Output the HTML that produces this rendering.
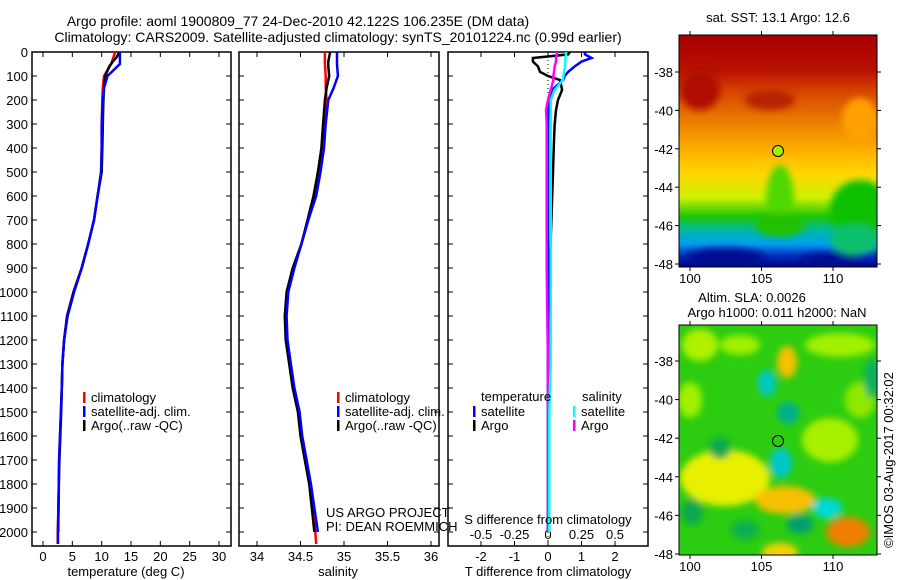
<!DOCTYPE html>
<html><head><meta charset="utf-8"><style>
body{margin:0;background:#fff;}
svg{display:block;font-family:"Liberation Sans",sans-serif;}
text{font-size:13px;fill:#000;}
</style></head><body>
<svg id="fig" width="900" height="580" viewBox="0 0 900 580">
<defs>
<filter id="bl" x="-50%" y="-50%" width="200%" height="200%"><feGaussianBlur stdDeviation="5"/></filter>
<filter id="bl2" x="-50%" y="-50%" width="200%" height="200%"><feGaussianBlur stdDeviation="3.5"/></filter>
<clipPath id="c1"><rect x="679" y="35" width="198" height="232"/></clipPath>
<clipPath id="c2"><rect x="679" y="325" width="198" height="230"/></clipPath>
<linearGradient id="sst" x1="0" y1="0" x2="0" y2="1">
<stop offset="0" stop-color="#a80000"/><stop offset="0.15" stop-color="#b81000"/>
<stop offset="0.25" stop-color="#d84800"/><stop offset="0.38" stop-color="#ec8000"/>
<stop offset="0.5" stop-color="#ffb000"/><stop offset="0.6" stop-color="#ffd800"/>
<stop offset="0.7" stop-color="#d0f000"/><stop offset="0.78" stop-color="#20c800"/>
<stop offset="0.84" stop-color="#00b8a0"/><stop offset="0.9" stop-color="#00a0f0"/>
<stop offset="0.95" stop-color="#0030c0"/><stop offset="1" stop-color="#000088"/>
</linearGradient>
</defs>
<g>
<text x="298" y="26" text-anchor="middle" style="font-size:14px">Argo profile: aoml 1900809_77 24-Dec-2010 42.122S 106.235E (DM data)</text>
<text x="338" y="42" text-anchor="middle" style="font-size:14px">Climatology: CARS2009. Satellite-adjusted climatology: synTS_20101224.nc (0.99d earlier)</text>
</g>
<g id="panels"></g>
<g>
<text x="778" y="22" text-anchor="middle">sat. SST: 13.1  Argo: 12.6</text>
<g clip-path="url(#c1)">
<rect x="679" y="35" width="198" height="232" fill="url(#sst)"/>
<g filter="url(#bl2)">
<ellipse cx="780" cy="200" rx="14" ry="35" fill="#50d800"/>
<ellipse cx="860" cy="210" rx="30" ry="30" fill="#10c000"/>
<ellipse cx="780" cy="225" rx="25" ry="12" fill="#20c000"/>
<ellipse cx="725" cy="258" rx="40" ry="10" fill="#001090"/>
<ellipse cx="830" cy="260" rx="30" ry="7" fill="#001090"/>
<ellipse cx="855" cy="240" rx="25" ry="15" fill="#10c070"/>
<ellipse cx="770" cy="100" rx="25" ry="10" fill="#b82000"/>
<ellipse cx="700" cy="90" rx="20" ry="20" fill="#b01000"/>
<ellipse cx="860" cy="120" rx="18" ry="22" fill="#ffa000"/>
</g>
</g>
<rect x="679" y="35" width="198" height="232" fill="none" stroke="#000"/>
<circle cx="778" cy="151" r="5.5" fill="#a0f000" stroke="#000"/>
<g id="map1ax"></g>
</g>
<g>
<text x="752" y="302" text-anchor="middle">Altim. SLA: 0.0026</text>
<text x="777" y="317" text-anchor="middle">Argo h1000: 0.011 h2000: NaN</text>
<g clip-path="url(#c2)">
<rect x="679" y="325" width="198" height="230" fill="#2ccc10"/>
<g filter="url(#bl2)">
<ellipse cx="725" cy="478" rx="45" ry="28" fill="#e8f000"/>
<ellipse cx="700" cy="345" rx="18" ry="16" fill="#b0f000"/>
<ellipse cx="840" cy="345" rx="35" ry="12" fill="#a0f000"/>
<ellipse cx="740" cy="345" rx="20" ry="10" fill="#a0f000"/>
<ellipse cx="690" cy="400" rx="12" ry="18" fill="#a0f000"/>
<ellipse cx="830" cy="440" rx="28" ry="22" fill="#a8f000"/>
<ellipse cx="860" cy="400" rx="15" ry="18" fill="#90e800"/>
<ellipse cx="787" cy="362" rx="10" ry="16" fill="#f8c000"/>
<ellipse cx="785" cy="500" rx="30" ry="14" fill="#f8c000"/>
<ellipse cx="848" cy="532" rx="22" ry="15" fill="#f08000"/>
<ellipse cx="780" cy="552" rx="18" ry="9" fill="#f8d000"/>
<ellipse cx="767" cy="383" rx="9" ry="13" fill="#00c8c8"/>
<ellipse cx="788" cy="413" rx="11" ry="11" fill="#00b090"/>
<ellipse cx="781" cy="463" rx="11" ry="15" fill="#00c8c8"/>
<ellipse cx="720" cy="448" rx="11" ry="11" fill="#10a850"/>
<ellipse cx="827" cy="508" rx="15" ry="10" fill="#00d8d8"/>
<ellipse cx="800" cy="524" rx="13" ry="10" fill="#00a070"/>
<ellipse cx="692" cy="512" rx="11" ry="13" fill="#10a850"/>
<ellipse cx="872" cy="378" rx="8" ry="20" fill="#10b060"/>
<ellipse cx="745" cy="530" rx="14" ry="10" fill="#10b050"/>
</g>
</g>
<rect x="679" y="325" width="198" height="230" fill="none" stroke="#000"/>
<circle cx="778" cy="441" r="5.5" fill="none" stroke="#000"/>
<g id="map2ax"></g>
<text transform="translate(893,460) rotate(-90)" text-anchor="middle">©IMOS 03-Aug-2017 00:32:02</text>
</g>
</svg>
<script>
// ---- data ----
const depthClim = [0,50,100,150,200,300,400,500,600,700,800,900,1000,1100,1200,1300,1400,1500,1600,1700,1800,1900,2000,2050];
const tempClim  = [12.3,11.6,10.4,10.2,10.1,10.0,10.0,9.9,9.3,8.7,7.7,6.6,5.2,4.1,3.6,3.3,3.2,3.05,2.9,2.75,2.7,2.62,2.5,2.5];
const tempSat   = [13.1,13.1,11.0,10.4,10.2,10.0,10.0,9.9,9.3,8.7,7.7,6.6,5.3,4.2,3.6,3.3,3.2,3.05,2.9,2.75,2.7,2.62,2.55,2.55];
const depthArgo = [0,20,40,60,100,150,200,300,400,500,600,700,800,900,1000,1100,1200,1300,1400,1500,1600,1700,1800,1900,2000];
const tempArgo  = [13.0,12.6,11.9,11.3,10.6,10.4,10.3,10.2,10.1,10.0,9.3,8.7,7.7,6.6,5.2,4.1,3.6,3.3,3.2,3.1,2.95,2.8,2.7,2.65,2.6];
const salClim   = [34.78,34.78,34.79,34.79,34.80,34.78,34.76,34.72,34.67,34.59,34.51,34.42,34.35,34.33,34.34,34.38,34.42,34.48,34.51,34.56,34.61,34.64,34.67,34.68];
const salSat    = [34.92,34.92,34.93,34.88,34.82,34.79,34.77,34.73,34.68,34.59,34.51,34.43,34.36,34.34,34.35,34.39,34.43,34.49,34.52,34.57,34.62,34.66,34.70,34.70];
const salArgo   = [34.84,34.83,34.82,34.82,34.83,34.80,34.78,34.76,34.74,34.70,34.65,34.58,34.51,34.41,34.34,34.32,34.33,34.37,34.41,34.47,34.50,34.55,34.60,34.63,34.66];
const depthDiff = [0,10,25,40,60,83,100,117,158,200,242,300,367,500,700,900,1100,1300,1500,1700,1900,2000];
const tDiffArgo = [0.65,0.6,-0.45,-0.45,-0.3,-0.24,0.0,0.36,0.42,0.3,0.24,0.2,0.18,0.15,0.1,0.05,0.0,0.0,0.0,0.0,0.0,0.0];
const tDiffSat  = [1.1,1.1,1.3,1.0,0.8,0.6,0.5,0.45,0.12,0.03,0.01,0.0,0.0,0.0,0.0,0.0,0.0,0.0,0.0,0.0,0.0,0.0];
const sDiffSat  = [0.134,0.134,0.13,0.128,0.127,0.12,0.115,0.11,0.05,0.02,0.02,0.02,0.02,0.02,0.02,0.02,0.02,0.02,0.01,0.01,0.01,0.01];
const sDiffArgo = [0.067,0.065,0.06,0.06,0.05,0.045,0.04,0.04,0.02,0.0,-0.015,-0.01,-0.01,-0.01,-0.01,-0.01,-0.005,0.0,0.0,0.0,0.0,0.0];
const depthTicks = [0,100,200,300,400,500,600,700,800,900,1000,1100,1200,1300,1400,1500,1600,1700,1800,1900,2000];
const tempTicks = [0,5,10,15,20,25,30];
const salTicks = [34,34.5,35,35.5,36];
const salTickLabels = ["34","34.5","35","35.5","36"];
const tdTicks = [-2,-1,0,1,2];
const sdTicks = [-0.5,-0.25,0,0.25,0.5];
const sdTickLabels = ["-0.5","-0.25","0","0.25","0.5"];
const lonTicks = [100,105,110];
const latTicks = [-38,-40,-42,-44,-46,-48];

const NS='http://www.w3.org/2000/svg';
const root=document.getElementById('panels');
function el(tag,attrs,parent,txt){const e=document.createElementNS(NS,tag);for(const k in attrs)e.setAttribute(k,attrs[k]);if(txt!==undefined)e.textContent=txt;(parent||root).appendChild(e);return e;}
const yTop=52, yBot=546;
const yD=d=>yTop+d*0.24;
function xs(x0,x1,v0,v1){return v=>x0+(v-v0)*(x1-x0)/(v1-v0);}
const xT=xs(43,219,0,30), xS=xs(257,431,34,36), xTD=xs(548,615,0,2), xSD=xs(548,615,0,0.5);

function frame(x0,x1,name){
  const r=el('rect',{x:x0,y:yTop,width:x1-x0,height:yBot-yTop,fill:'none',stroke:'#000','stroke-width':1.5});
  
  
}
function xtick(x,lab,y){
  el('line',{x1:x,x2:x,y1:yBot,y2:yBot-5,stroke:'#000'});
  el('line',{x1:x,x2:x,y1:yTop,y2:yTop+5,stroke:'#000'});
  if(lab!==null){const t=el('text',{x:x,y:y||561,'text-anchor':'middle'},root,lab);
  
  }
}
function line(xsArr,ds,xf,color,name,w){
  const pts=xsArr.map((v,i)=>xf(v).toFixed(1)+','+yD(ds[i]).toFixed(1)).join(' ');
  const p=el('polyline',{points:pts,fill:'none',stroke:color,'stroke-width':w||2.5});
  
  
}
function legend(x,y,color,lab){
  el('rect',{x:x,y:y-10,width:2.5,height:11,fill:color});
  const t=el('text',{x:x+8,y:y},root,lab);
  
  
}
// panel 1
frame(32,231,'temperature-panel');
depthTicks.forEach(d=>{
  el('line',{x1:32,x2:37,y1:yD(d),y2:yD(d),stroke:'#000'});
  el('line',{x1:226,x2:231,y1:yD(d),y2:yD(d),stroke:'#000'});
  const t=el('text',{x:28,y:yD(d)+5,'text-anchor':'end'},root,String(d));
  
  
});
tempTicks.forEach(v=>xtick(xT(v),String(v)));
line(tempClim,depthClim,xT,'#f00','temp-climatology-line');
line(tempArgo,depthArgo,xT,'#000','temp-argo-line');
line(tempSat,depthClim,xT,'#00f','temp-satellite-line');
legend(83,402,'#f00','climatology');legend(83,416,'#00f','satellite-adj. clim.');legend(83,430,'#000','Argo(..raw -QC)');
let t=el('text',{x:126,y:576,'text-anchor':'middle'},root,'temperature (deg C)');


// panel 2
frame(239,439,'salinity-panel');
depthTicks.forEach(d=>{el('line',{x1:239,x2:244,y1:yD(d),y2:yD(d),stroke:'#000'});el('line',{x1:434,x2:439,y1:yD(d),y2:yD(d),stroke:'#000'});});
salTicks.forEach((v,i)=>xtick(xS(v),salTickLabels[i]));
line(salClim,depthClim,xS,'#f00','sal-climatology-line');
line(salArgo,depthArgo,xS,'#000','sal-argo-line');
line(salSat.slice(0,23),depthClim.slice(0,23),xS,'#00f','sal-satellite-line');
legend(337,402,'#f00','climatology');legend(337,416,'#00f','satellite-adj. clim.');legend(337,430,'#000','Argo(..raw -QC)');
t=el('text',{x:338,y:576,'text-anchor':'middle'},root,'salinity');


t=el('text',{x:326,y:517},root,'US ARGO PROJECT');


t=el('text',{x:326,y:531},root,'PI: DEAN ROEMMICH');


// panel 3
frame(448,648,'difference-panel');
depthTicks.forEach(d=>{el('line',{x1:448,x2:453,y1:yD(d),y2:yD(d),stroke:'#000'});el('line',{x1:643,x2:648,y1:yD(d),y2:yD(d),stroke:'#000'});});
tdTicks.forEach(v=>xtick(xTD(v),String(v)));
sdTicks.forEach((v,i)=>{const tt=el('text',{x:xSD(v),y:539,'text-anchor':'middle'},root,sdTickLabels[i]);
  
  });
el('line',{x1:xTD(0),x2:xTD(0),y1:yTop,y2:yBot,stroke:'#000','stroke-dasharray':'1,3'});
line(tDiffArgo,depthDiff,xTD,'#000','tdiff-argo-line');
line(tDiffSat,depthDiff,xTD,'#00f','tdiff-satellite-line');
line(sDiffArgo,depthDiff,xSD,'#f0f','sdiff-argo-line');
line(sDiffSat,depthDiff,xSD,'#0ff','sdiff-satellite-line');
t=el('text',{x:481,y:401},root,'temperature');
t=el('text',{x:582,y:401},root,'salinity');
legend(473,416,'#00f','satellite');legend(473,430,'#000','Argo');
legend(573,416,'#0ff','satellite');legend(573,430,'#f0f','Argo');
t=el('text',{x:548,y:524,'text-anchor':'middle'},root,'S difference from climatology');

t=el('text',{x:548,y:576,'text-anchor':'middle'},root,'T difference from climatology');

// map axes
function mapAxes(gid,y0,y1,latY){
  const g=document.getElementById(gid);
  const xL=xs(690,833,100,110);
  lonTicks.forEach(v=>{
    el('line',{x1:xL(v),x2:xL(v),y1:y0-4,y2:y0,stroke:'#000'},g);
    el('line',{x1:xL(v),x2:xL(v),y1:y1,y2:y1+4,stroke:'#000'},g);
    const tt=el('text',{x:xL(v),y:y1+16,'text-anchor':'middle'},g,String(v));
    
  });
  latTicks.forEach(v=>{
    const y=latY(v);
    el('line',{x1:675,x2:679,y1:y,y2:y,stroke:'#000'},g);
    el('line',{x1:877,x2:881,y1:y,y2:y,stroke:'#000'},g);
    const tt=el('text',{x:673,y:y+5,'text-anchor':'end'},g,String(v));
    
  });
}
mapAxes('map1ax',35,267,xs(72,264,-38,-48));
mapAxes('map2ax',325,555,xs(361,554,-38,-48));
</script>
</body></html>
